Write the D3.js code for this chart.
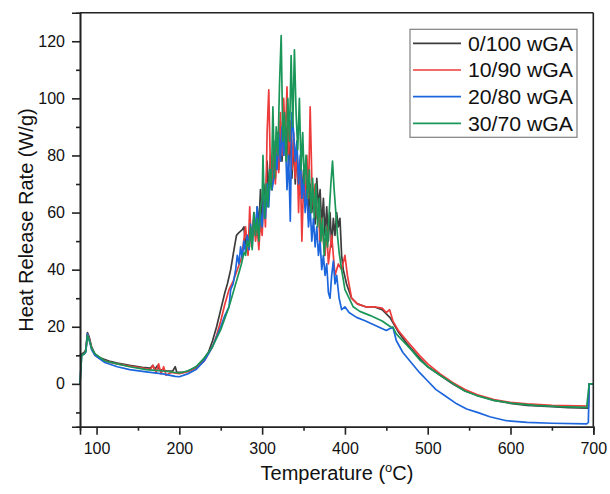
<!DOCTYPE html>
<html><head><meta charset="utf-8">
<script src="https://cdn.jsdelivr.net/npm/d3@7"></script>
<style>body{margin:0;background:#fff}svg{display:block}text{font-family:"Liberation Sans",Arial,sans-serif;fill:#111}</style>
</head><body><svg id="c" width="610" height="494"></svg>
<script>
const seriesNames = ["0/100 wGA","10/90 wGA","20/80 wGA","30/70 wGA"];
const seriesColors = ["#3d3d3d","#ee3b3b","#1c66dd","#1a9658"];
const xTicks = [100,200,300,400,500,600,700];
const yTicks = [0,20,40,60,80,100,120];

const black = [[80,10],[82,10.5],[85,11],[87,12],[89,18],[91,16.5],[94,13],[98,10.5],[105,9],[115,8],[125,7.3],[140,6.5],[155,5.8],[165,5.5],[168,6.5],[170,5],[174,6.5],[176,5],[185,4.5],[192,4.5],[195,6],[197,4],[205,4],[215,5],[225,7],[235,11],[240,15],[245,20],[250,26],[255,32],[258,35],[262,40],[266,47],[269,52],[272,53],[276,54],[278,55],[280,48],[282,52],[284,47],[286,55],[288,50],[290,60],[292,52],[294,62],[296,55],[298,68],[300,58],[302,70],[304,62],[306,78],[308,66],[310,80],[312,68],[314,85],[316,72],[318,88],[320,75],[322,92],[324,78],[326,95],[328,80],[330,90],[332,76],[334,88],[336,72],[338,85],[340,70],[342,82],[344,68],[346,78],[348,65],[350,75],[352,62],[354,72],[356,58],[358,70],[360,60],[362,68],[364,56],[366,72],[368,62],[370,68],[372,55],[374,65],[376,52],[378,62],[380,50],[382,60],[384,48],[386,58],[388,52],[390,60],[392,55],[394,58],[396,45],[398,40],[402,35],[408,30],[415,28],[425,27],[435,27],[445,26],[455,23],[465,18],[475,14],[490,9],[500,6],[515,3],[530,0],[545,-2.5],[560,-4],[580,-5.8],[600,-6.8],[620,-7.5],[650,-8],[670,-8.3],[694,-8.5],[695,0],[700,0]];
const red = [[80,9.5],[82,10],[85,10.5],[87,11.5],[89,17.5],[91,16],[94,12.5],[98,10],[105,8.7],[115,7.6],[125,7],[140,6.2],[155,5.5],[165,5],[168,6.5],[172,4],[175,7],[178,3.5],[181,6],[184,3],[190,4],[200,3.6],[210,4.3],[220,5.5],[230,8],[240,13],[245,17],[250,22],[255,28],[260,33],[265,36],[270,40],[275,44],[280,55],[283,45],[285,62],[287,48],[290,58],[292,50],[294,55],[296,47],[298,57],[300,52],[302,65],[304,55],[306,88],[308,103],[310,75],[312,68],[314,80],[316,70],[318,85],[320,74],[322,95],[324,80],[326,100],[328,85],[330,104],[332,80],[334,92],[336,75],[338,88],[340,72],[342,85],[344,60],[346,78],[348,50],[350,70],[352,62],[354,80],[356,65],[358,97],[360,72],[362,62],[364,70],[366,58],[368,62],[370,48],[372,58],[374,50],[376,45],[378,55],[380,42],[384,52],[388,38],[392,42],[396,40],[400,45],[403,38],[408,30],[415,28],[425,27],[435,27],[445,26.5],[450,25],[454,26],[458,22],[465,18.5],[475,15],[490,10],[500,7],[515,3.5],[530,0.5],[545,-2],[560,-3.8],[580,-5.5],[600,-6.5],[620,-7],[650,-7.5],[694,-7.8],[695,0],[700,0]];
const blue = [[80,0],[82,10],[85,10.5],[87,11],[89,17.5],[91,15.5],[94,12],[98,10],[110,7.5],[125,6],[140,5],[160,4.2],[180,3.5],[195,2.6],[200,2.5],[210,3.5],[220,5],[230,8],[240,13],[250,20],[255,24],[260,27],[262,33],[265,35],[268,40],[270,45],[272,42],[274,48],[276,44],[278,50],[280,46],[282,52],[284,47],[286,56],[288,48],[290,58],[292,55],[294,62],[296,52],[298,60],[300,55],[302,66],[304,58],[306,70],[308,62],[310,75],[312,68],[314,72],[316,82],[318,75],[320,88],[322,78],[324,90],[326,80],[328,88],[330,68],[332,80],[334,57],[336,95],[338,88],[340,78],[342,85],[344,70],[346,80],[348,65],[350,72],[352,60],[354,68],[356,55],[358,62],[360,50],[362,58],[364,48],[366,55],[368,45],[370,50],[372,40],[374,45],[376,38],[378,42],[380,32],[382,30],[384,38],[386,43],[388,35],[390,38],[393,30],[396,26],[400,27],[405,25],[414,23.3],[425,22],[440,20],[450,18.7],[455,19.5],[458,19.8],[462,15.2],[470,11],[480,7.5],[490,4],[500,1],[510,-2],[520,-4],[535,-7],[547,-8.8],[560,-10],[575,-11.5],[595,-12.9],[620,-13.5],[650,-13.8],[692,-14],[694,-13.5],[695,0],[700,0]];
const green = [[80,0],[82,10],[85,10.5],[87,11.5],[89,17],[91,15.5],[94,12.5],[98,10.5],[110,8],[125,7],[140,6],[160,5],[180,4.5],[200,3.8],[210,4.5],[220,6],[230,9],[240,13],[250,19],[260,27],[265,32],[270,37],[275,42],[278,46],[280,45],[282,50],[284,48],[286,55],[288,47],[290,60],[292,52],[294,58],[296,50],[298,62],[300,65],[301,80],[303,58],[305,70],[307,62],[309,75],[311,68],[313,97],[315,72],[317,90],[319,80],[321,105],[323,122],[325,85],[327,95],[329,78],[331,100],[333,85],[335,115],[337,90],[339,117],[341,95],[343,82],[345,100],[347,75],[349,88],[351,70],[353,80],[355,65],[357,75],[359,60],[361,72],[363,58],[365,70],[367,55],[369,65],[371,50],[373,58],[375,45],[377,55],[379,48],[381,60],[383,70],[385,78],[387,68],[389,60],[391,52],[393,46],[396,40],[400,33],[405,30],[410,27],[418,25.4],[430,24],[445,22],[455,20],[458,19.8],[462,17.5],[470,15],[480,12],[491,8.2],[500,6],[515,3],[531,0],[545,-2.5],[559,-4.1],[580,-5.8],[603,-6.8],[630,-7.5],[660,-8],[692,-8.2],[695,0],[700,0]];
const seriesData = [black, red, blue, green];

const svg = d3.select("#c");
const L=80, R=593.3, T=12.7, B=426.7;
const x = d3.scaleLinear().domain([80,700]).range([L,R]);
const y = d3.scaleLinear().domain([-15,130]).range([B,T]);

const line = d3.line().x(d=>x(d[0])).y(d=>y(d[1]));
svg.append("g").selectAll("path").data(seriesData).join("path")
  .attr("d", line).attr("fill","none")
  .attr("stroke",(d,i)=>seriesColors[i]).attr("stroke-width",1.7).attr("stroke-linejoin","round");

const axisStroke = "#222";
const gxm = svg.append("g").attr("transform",`translate(0,${B})`)
  .call(d3.axisBottom(x).tickValues([150,250,350,450,550,650]).tickSize(4).tickFormat(""));
const gym = svg.append("g").attr("transform",`translate(${L},0)`)
  .call(d3.axisLeft(y).tickValues([-10,10,30,50,70,90,110]).tickSize(4).tickFormat(""));
const gx = svg.append("g").attr("transform",`translate(0,${B})`)
  .call(d3.axisBottom(x).tickValues(xTicks).tickSize(8).tickPadding(8).tickFormat(d3.format("d")));
const gy = svg.append("g").attr("transform",`translate(${L},0)`)
  .call(d3.axisLeft(y).tickValues(yTicks).tickSize(8).tickPadding(7).tickFormat(d3.format("d")));
[gxm,gym,gx,gy].forEach(g=>{
  g.selectAll("path.domain").attr("stroke",axisStroke).attr("stroke-width",1.6);
  g.selectAll("line").attr("stroke",axisStroke).attr("stroke-width",1.6);
  g.selectAll("text").attr("font-size",16).attr("font-family","Liberation Sans, Arial, sans-serif").attr("fill","#111");
});
svg.append("line").attr("x1",L).attr("x2",R).attr("y1",T).attr("y2",T).attr("stroke",axisStroke).attr("stroke-width",1.6);
svg.append("line").attr("x1",R).attr("x2",R).attr("y1",T).attr("y2",B).attr("stroke",axisStroke).attr("stroke-width",1.6);

const xt = svg.append("text").attr("x",337).attr("y",480).attr("text-anchor","middle").attr("font-size",20);
xt.append("tspan").text("Temperature (");
xt.append("tspan").text("o").attr("font-size",13).attr("dy",-8);
xt.append("tspan").text("C)").attr("dy",8);
svg.append("text").attr("transform","translate(33,220) rotate(-90)").attr("text-anchor","middle")
  .attr("font-size",20).text("Heat Release Rate (W/g)");

const lg = svg.append("g");
lg.append("rect").attr("x",410).attr("y",29.3).attr("width",167).attr("height",108)
  .attr("fill","#fff").attr("stroke","#808080").attr("stroke-width",1.2);
seriesNames.forEach((n,i)=>{
  const yy = 43.3 + i*26.7;
  lg.append("line").attr("x1",413).attr("x2",461).attr("y1",yy).attr("y2",yy)
    .attr("stroke",seriesColors[i]).attr("stroke-width",1.7);
  lg.append("text").attr("x",468).attr("y",yy).attr("dy","0.36em").attr("font-size",20)
    .attr("textLength",105).attr("lengthAdjust","spacingAndGlyphs").text(n);
});
</script></body></html>
